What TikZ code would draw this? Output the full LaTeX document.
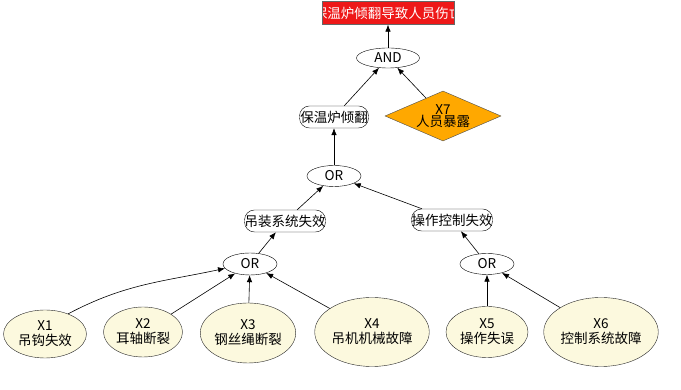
\documentclass[tikz,border=0pt]{standalone}
\usepackage{fontspec}
\setmainfont{Noto Sans CJK SC}
\usepackage{tikz}
\usetikzlibrary{arrows.meta,shapes.geometric}
\definecolor{leafyellow}{RGB}{252,249,222}
\definecolor{topred}{RGB}{238,24,24}
\definecolor{gateorange}{RGB}{255,168,0}

\begin{document}
\begin{tikzpicture}[
  x=1pt,y=1pt,
  font=\fontsize{13.5}{15}\selectfont,
  gate/.style={draw,ellipse,fill=white,inner sep=0pt,minimum width=54,minimum height=21},
  event/.style={draw,rounded corners=10pt,fill=white,inner sep=0pt,minimum width=79,minimum height=22},
  leaf/.style={draw=black!85,ellipse,fill=leafyellow,align=center,inner sep=0pt},
  arr/.style={-{Latex[length=7pt,width=5.5pt]},line width=0.6pt}
]
\useasboundingbox (0,0) rectangle (681,390);
% top event
\node[draw=black!60,fill=topred,minimum width=132,minimum height=23,inner sep=0pt,
      path picture={\node[text=white] at (path picture bounding box.center)
      {保温炉倾翻导致人员伤亡};}] (top) at (388,377) {};
\node[gate,minimum width=63,minimum height=20] (and) at (388,332) {AND};
\node[event,minimum width=69] (bw) at (334,273) {保温炉倾翻};
\node[draw=black!70,diamond,aspect=2.3,fill=gateorange,align=center,inner sep=0pt,
      minimum width=116,minimum height=50] (x7) at (443,274) {X7\\[-3pt]人员暴露};
% middle layer
\node[gate] (or1) at (334,214) {OR};
\node[event] (hoist) at (285,169) {吊装系统失效};
\node[event] (ctrl) at (452,170) {操作控制失效};
\node[gate,minimum height=22] (or2) at (250,126) {OR};
\node[gate] (or3) at (487,126) {OR};
% basic events
\node[leaf,minimum width=83,minimum height=48]  (x1) at (45,56)  {X1\\吊钩失效};
\node[leaf,minimum width=79,minimum height=50]  (x2) at (143,58) {X2\\耳轴断裂};
\node[leaf,minimum width=87,minimum height=60]  (x3) at (248,57) {X3\\钢丝绳断裂};
\node[leaf,minimum width=111,minimum height=69] (x4) at (372,58) {X4\\吊机机械故障};
\node[leaf,minimum width=82,minimum height=51]  (x5) at (487,58) {X5\\操作失误};
\node[leaf,minimum width=112,minimum height=69] (x6) at (601,58) {X6\\控制系统故障};
% connectors
\draw[arr] (and) -- (top);
\draw[arr] (bw) -- (and);
\draw[arr] (x7) -- (and);
\draw[arr] (or1) -- (bw);
\draw[arr] (hoist) -- (or1);
\draw[arr] (ctrl) -- (or1);
\draw[arr] (or2) -- (hoist);
\draw[arr] (or3) -- (ctrl);
\draw[arr] (x1.41) to[out=28,in=192] (or2.190);
\draw[arr] (x2) -- (or2);
\draw[arr] (x3) -- (or2);
\draw[arr] (x4) -- (or2);
\draw[arr] (x5) -- (or3);
\draw[arr] (x6) -- (or3);
\end{tikzpicture}
\end{document}
